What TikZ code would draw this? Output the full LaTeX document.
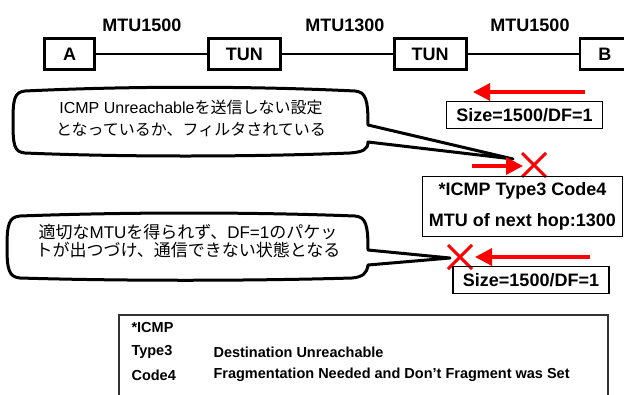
\documentclass[tikz,border=0pt]{standalone}
\usepackage{fontspec}
\setmainfont{Liberation Sans}
\newfontfamily\jpfont{Noto Sans CJK JP}
\usetikzlibrary{arrows.meta,positioning}

\newcommand{\jp}[1]{{\jpfont #1}}

\begin{document}
\begin{tikzpicture}[x=1pt,y=-1pt,>=Stealth,
  hostbox/.style={draw,line width=2.8pt,font=\fontsize{18}{21}\selectfont\bfseries,
    minimum height=31pt,inner sep=0pt},
  sizebox/.style={draw,line width=1.1pt,font=\fontsize{18}{21}\selectfont\bfseries,
    minimum width=156pt,minimum height=27pt,inner sep=0pt},
  mtulabel/.style={font=\fontsize{18}{21}\selectfont\bfseries},
  redarrow/.style={draw=red,line width=3.2pt,-{Triangle[length=17pt,width=17pt]}},
  redcross/.style={draw=red,line width=3pt},
  callout/.style={draw,line width=3pt,fill=white,line join=round},
  rowtext/.style={anchor=west,font=\fontsize{14.5}{16}\selectfont\bfseries}]
  \clip (0,0) rectangle (624,394);

  % hosts and tunnel ends
  \node[hostbox,minimum width=50pt] (A) at (69.5,54) {A};
  \node[hostbox,minimum width=72pt,right=111pt of A] (T1) {TUN};
  \node[hostbox,minimum width=72pt,right=111pt of T1] (T2) {TUN};
  \node[hostbox,minimum width=50pt,right=111pt of T2] (B) {B};
  \draw[line width=2.5pt] (A) -- (T1);
  \draw[line width=2.5pt] (T1) -- (T2);
  \draw[line width=2.5pt] (T2) -- (B);
  \node[mtulabel] (mtuA) at (142,25) {MTU1500};
  \node[mtulabel] (mtuT) at (345,25) {MTU1300};
  \node[mtulabel] (mtuB) at (530,25) {MTU1500};

  % callouts
  \draw[callout] (25,91) .. controls (130,86) and (250,86) .. (355,91)
    .. controls (366,92) and (368,100) .. (368,125) -- (513,159) -- (368,142)
    .. controls (368,150) and (362,152) .. (350,153)
    .. controls (250,157) and (120,157) .. (25,153)
    .. controls (14,152) and (13,145) .. (13,122)
    .. controls (13,100) and (14,92) .. (25,91) -- cycle;
  \node[align=center,font=\fontsize{16}{22}\selectfont] (note1) at (191,118)
    {ICMP Unreachable\jp{を送信しない設定}\\\jp{となっているか、フィルタされている}};

  \draw[callout] (20,216) .. controls (130,212) and (250,212) .. (355,216)
    .. controls (366,217) and (368,225) .. (368,250) -- (450,258) -- (368,265)
    .. controls (367,273) and (363,277) .. (352,278)
    .. controls (250,281) and (120,281) .. (20,278)
    .. controls (9,277) and (7,270) .. (7,247)
    .. controls (7,224) and (9,217) .. (20,216) -- cycle;
  \node[align=center,font=\fontsize{17}{18.5}\selectfont] (note2) at (188,241)
    {\jp{適切な}MTU\jp{を得られず、}DF=1\jp{のパケッ}\\\jp{トが出つづけ、通信できない状態となる}};

  % packets and ICMP reply
  \coordinate (p1s) at (585,92);
  \coordinate (p1e) at (473,92);
  \draw[redarrow] (p1s) -- (p1e);
  \node[sizebox] (size1) at (524.5,115) {Size=1500/DF=1};

  \coordinate (r1s) at (472,166);
  \coordinate (r1e) at (523,166);
  \draw[redarrow] (r1s) -- (r1e);
  \coordinate (x1) at (534,165);
  \draw[redcross] (x1) ++(-12,-12) -- ++(24,24) (x1) ++(12,-12) -- ++(-24,24);

  \node[draw,line width=1.1pt,align=center,minimum width=200pt,minimum height=60pt,
    font=\fontsize{18}{31}\selectfont\bfseries] (icmp) at (522.5,206.5)
    {*ICMP Type3 Code4\\MTU of next hop:1300};

  \coordinate (p2s) at (590,257);
  \coordinate (p2e) at (475,257);
  \draw[redarrow] (p2s) -- (p2e);
  \coordinate (x2) at (460,257);
  \draw[redcross] (x2) ++(-12,-12) -- ++(24,24) (x2) ++(12,-12) -- ++(-24,24);
  \node[sizebox] (size2) at (531,280) {Size=1500/DF=1};

  % ICMP legend
  \draw[line width=1.1pt,black!80] (119,400) -- (119,315) -- (608,315) -- (608,400);
  \node[rowtext] (hICMP) at (128,328) {*ICMP};
  \node[rowtext] (hType) at (128,352) {Type3};
  \node[rowtext] (dType) at (210,352) {Destination Unreachable};
  \node[rowtext] (hCode) at (128,375) {Code4};
  \node[rowtext] (dCode) at (210,375) {Fragmentation Needed and Don’t Fragment was Set};
\end{tikzpicture}
\end{document}
